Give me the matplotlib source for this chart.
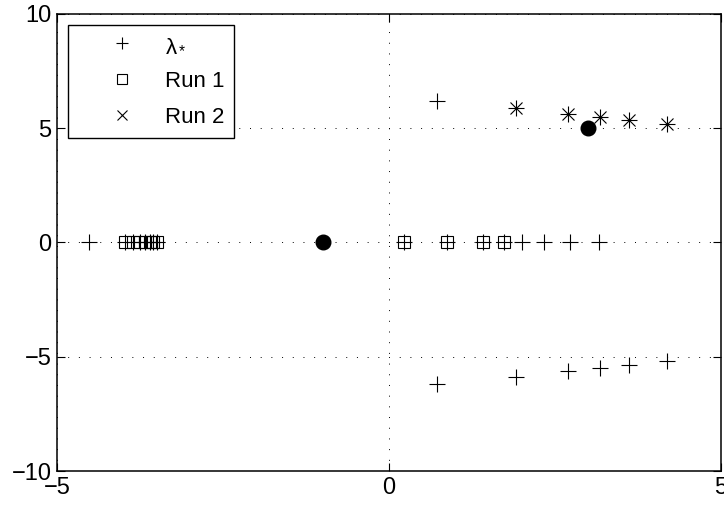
import numpy as np
import matplotlib
matplotlib.use('Agg')
import matplotlib.pyplot as plt

plt.rcParams['font.family'] = ['Liberation Sans', 'DejaVu Sans']
plt.rcParams['mathtext.fontset'] = 'custom'
plt.rcParams['mathtext.rm'] = 'Liberation Sans'
plt.rcParams['mathtext.it'] = 'Liberation Sans'

# autovalori esatti (lambda*), parte reale e immaginaria
lam_re = [-4.52, -3.98, -3.85, -3.75, -3.67, -3.60, -3.55, -3.49,
          0.22, 0.88, 1.41, 1.73, 2.01, 2.33, 2.73, 3.17,
          0.72, 1.92, 2.69, 3.18, 3.62, 4.18,
          0.72, 1.92, 2.69, 3.18, 3.62, 4.18]
lam_im = [0, 0, 0, 0, 0, 0, 0, 0,
          0, 0, 0, 0, 0, 0, 0, 0,
          6.18, 5.87, 5.63, 5.51, 5.37, 5.20,
          -6.18, -5.87, -5.63, -5.51, -5.37, -5.20]

# Run 1 (quadrati)
run1_re = [-3.98, -3.85, -3.75, -3.67, -3.60, -3.55, -3.49, 0.22, 0.88, 1.41, 1.73]
run1_im = [0, 0, 0, 0, 0, 0, 0, 0, 0, 0, 0]

# Run 2 (croci)
run2_re = [1.92, 2.69, 3.18, 3.62, 4.18]
run2_im = [5.87, 5.63, 5.51, 5.37, 5.20]

# shift (punti pieni)
shift_re = [-1, 3]
shift_im = [0, 5]

fig = plt.figure(figsize=(7.24, 5.07), dpi=100)
ax = fig.add_axes([57/724, 1-471/507, 664/724, 457/507])

ax.plot(lam_re, lam_im, '+', color='k', markersize=11.5, markeredgewidth=0.8, label=r'$\lambda_*$')
ax.plot(run1_re, run1_im, 's', color='k', markerfacecolor='none', markersize=8.5,
        markeredgewidth=0.8, label='Run 1')
ax.plot(run2_re, run2_im, 'x', color='k', markersize=8.5, markeredgewidth=0.8, label='Run 2')
ax.plot(shift_re, shift_im, 'o', color='k', markersize=10.5)

ax.set_xlim(-5, 5)
ax.set_ylim(-10, 10)
ax.set_xticks([-5, 0, 5])
ax.set_yticks([-10, -5, 0, 5, 10])
ax.set_xticklabels(['\u22125', '0', '5'])
ax.set_yticklabels(['\u221210', '\u22125', '0', '5', '10'])
ax.tick_params(direction='in', length=6, width=0.8, top=True, right=True, labelsize=17, pad=4)
ax.grid(True, linestyle=(0, (1, 10)), color='k', linewidth=0.7)
for s in ax.spines.values():
    s.set_linewidth(1.1)

leg = ax.legend(loc='upper left', bbox_to_anchor=(11/664, 446/457), borderaxespad=0,
                fontsize=16, handlelength=4, handletextpad=-0.1, labelspacing=0.68,
                markerscale=0.8, fancybox=False, edgecolor='k', framealpha=1,
                borderpad=0.45)
leg.get_frame().set_linewidth(1.0)

plt.savefig('out.png', dpi=100)
